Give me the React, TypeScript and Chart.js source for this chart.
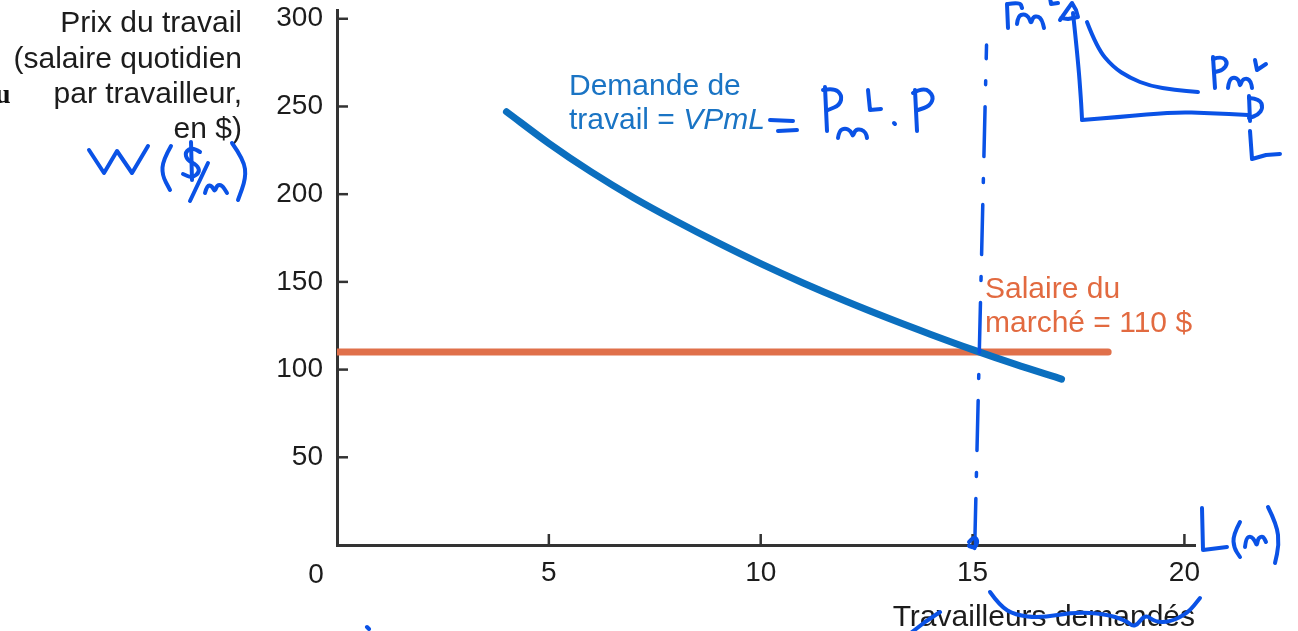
import React, { useEffect, useRef } from "react";
import { Chart, registerables } from "chart.js";

Chart.register(...registerables);

// ---- data ----
const demandWorkers = [4, 5, 6, 7, 8, 9, 10, 11, 12, 13, 14, 15, 16, 17.1];
const demandWage = [247, 229, 212.7, 198, 184.7, 172.2, 160.4, 149.4, 139.1, 129.4, 120.2, 111.4, 103.1, 94.6];
const marketWorkers = [0, 18.2];
const marketWage = [110, 110];
const handLineWorkers = [15.05, 15.33];
const handLineWage = [-2, 285];
const xTicks = [5, 10, 15, 20];
const yTicks = [50, 100, 150, 200, 250, 300];

const yTitleLines = ["Prix du travail", "(salaire quotidien", "par travailleur,", "en $)"];
const demandLabel = ["Demande de", "travail = ", "VPmL"];
const marketLabel = ["Salaire du", "marché = 110 $"];
const xTitle = "Travailleurs demandés";

// ---- styles ----
const FONT = '"Liberation Sans", Arial, Helvetica, sans-serif';
const TEXT = "#1c1c1c";
const BLUE = "#0b6fbf";
const ORANGE = "#e0704a";
const INK = "#0a52e6";

// hand-written ink strokes (decoration, canvas pixels) : [smooth, points]
type Stroke = [boolean, number[][]];
const inkStrokes: Stroke[] = [
  // W ($/M)
  [false, [[89, 150], [104, 173], [117, 151], [132, 173], [148, 146]]],
  [true, [[171, 146], [163, 160], [162, 175], [170, 190]]],
  [true, [[200, 152], [193, 147], [185, 152], [187, 160], [197, 165], [200, 172], [192, 178], [183, 174]]],
  [false, [[191, 142], [192, 180]]],
  [false, [[208, 163], [190, 201]]],
  [true, [[205, 193], [207, 185], [212, 186], [215, 192], [217, 185], [222, 185], [227, 193]]],
  [true, [[232, 143], [244, 160], [246, 178], [238, 200]]],
  // = Pm^L . P
  [false, [[770, 120], [793, 121]]],
  [false, [[778, 131], [797, 130]]],
  [false, [[825, 87], [827, 131]]],
  [true, [[823, 90], [834, 88], [842, 95], [840, 105], [828, 110]]],
  [true, [[838, 138], [839, 131], [845, 128], [851, 131], [853, 137], [855, 130], [861, 129], [866, 133], [867, 138]]],
  [false, [[868, 90], [870, 110], [881, 109]]],
  [false, [[894, 123], [895, 124]]],
  [false, [[915, 90], [917, 131]]],
  [true, [[913, 93], [924, 87], [934, 96], [930, 106], [918, 110]]],
  // inset sketch
  [false, [[1007, 4], [1008, 28]]],
  [true, [[1008, 4], [1020, 2], [1022, 8]]],
  [true, [[1017, 24], [1018, 16], [1024, 14], [1029, 17], [1031, 24], [1033, 17], [1038, 16], [1042, 20], [1044, 28]]],
  [false, [[1050, -2], [1051, 4], [1058, 3]]],
  [false, [[1060, 20], [1067, 10], [1072, 3], [1076, 10], [1078, 17], [1068, 19], [1061, 18]]],
  [true, [[1073, 13], [1078, 60], [1081, 100], [1082, 119]]],
  [true, [[1082, 120], [1120, 117], [1173, 112], [1210, 113], [1248, 115]]],
  [true, [[1087, 22], [1097, 48], [1113, 67], [1130, 78], [1150, 86], [1175, 90], [1198, 92]]],
  [false, [[1213, 57], [1215, 88]]],
  [true, [[1213, 59], [1222, 56], [1228, 63], [1223, 70], [1215, 72]]],
  [true, [[1228, 88], [1229, 80], [1234, 77], [1239, 80], [1240, 87], [1242, 80], [1247, 78], [1251, 82], [1252, 88]]],
  [false, [[1255, 60], [1257, 70], [1266, 64]]],
  [false, [[1249, 96], [1250, 121]]],
  [true, [[1249, 98], [1260, 99], [1263, 108], [1258, 115], [1249, 118]]],
  [false, [[1250, 131], [1252, 159], [1266, 155], [1280, 154]]],
  // L(M)
  [false, [[1202, 508], [1203, 550], [1227, 547]]],
  [true, [[1240, 522], [1233, 535], [1234, 548], [1240, 557]]],
  [true, [[1245, 547], [1246, 538], [1251, 536], [1255, 541], [1257, 546], [1258, 538], [1263, 536], [1266, 542]]],
  [true, [[1268, 507], [1277, 525], [1279, 545], [1275, 563]]],
  // scribble at 15
  [true, [[969, 542], [974, 536], [978, 541], [975, 548], [969, 546]]],
  // wavy line over axis title
  [true, [[990, 592], [1000, 606], [1015, 615], [1040, 618], [1075, 612], [1105, 614], [1125, 620], [1135, 628], [1145, 614], [1155, 622], [1170, 622], [1188, 613], [1200, 598]]],
  [false, [[912, 632], [925, 622], [940, 612]]],
  [false, [[367, 627], [369, 629]]],
];

function drawStroke(ctx: CanvasRenderingContext2D, smooth: boolean, pts: number[][]) {
  ctx.beginPath();
  ctx.moveTo(pts[0][0], pts[0][1]);
  if (!smooth || pts.length < 3) {
    for (let i = 1; i < pts.length; i++) ctx.lineTo(pts[i][0], pts[i][1]);
  } else {
    for (let i = 1; i < pts.length - 1; i++) {
      const mx = (pts[i][0] + pts[i + 1][0]) / 2;
      const my = (pts[i][1] + pts[i + 1][1]) / 2;
      ctx.quadraticCurveTo(pts[i][0], pts[i][1], mx, my);
    }
    const last = pts[pts.length - 1];
    ctx.lineTo(last[0], last[1]);
  }
  ctx.stroke();
}

const decorPlugin = {
  id: "decor",
  afterDraw(chart: any) {
    const ctx: CanvasRenderingContext2D = chart.ctx;
    const xs = chart.scales.x;
    const ys = chart.scales.y;
    const area = chart.chartArea;
    ctx.save();

    // inward tick marks
    ctx.strokeStyle = "#333333";
    ctx.lineWidth = 2.5;
    yTicks.forEach((v) => {
      const py = ys.getPixelForValue(v);
      ctx.beginPath();
      ctx.moveTo(area.left, py);
      ctx.lineTo(area.left + 11, py);
      ctx.stroke();
    });
    xTicks.forEach((v) => {
      const px = xs.getPixelForValue(v);
      ctx.beginPath();
      ctx.moveTo(px, area.bottom);
      ctx.lineTo(px, area.bottom - 11);
      ctx.stroke();
    });

    // origin label
    ctx.fillStyle = TEXT;
    ctx.font = `28px ${FONT}`;
    ctx.textAlign = "center";
    ctx.textBaseline = "alphabetic";
    ctx.fillText("0", area.left - 21, 583);

    // y title
    ctx.font = `30px ${FONT}`;
    ctx.textAlign = "right";
    const yBase = [32, 68, 103, 138];
    yTitleLines.forEach((t, i) => ctx.fillText(t, 242, yBase[i]));

    // x title
    ctx.fillText(xTitle, area.right, 626);

    // demand label
    ctx.textAlign = "left";
    ctx.fillStyle = "#1a74c4";
    ctx.fillText(demandLabel[0], 569, 95);
    ctx.fillText(demandLabel[1], 569, 129);
    const w = ctx.measureText(demandLabel[1]).width;
    ctx.font = `italic 30px ${FONT}`;
    ctx.fillText(demandLabel[2], 569 + w, 129);

    // market label
    ctx.font = `30px ${FONT}`;
    ctx.fillStyle = "#e26a40";
    ctx.fillText(marketLabel[0], 985, 298);
    ctx.fillText(marketLabel[1], 985, 332);

    // stray serif glyph at the left edge
    ctx.fillStyle = "#111111";
    ctx.font = `bold 28px "Liberation Serif", serif`;
    ctx.fillText("u", -5, 103);

    // ink
    ctx.strokeStyle = INK;
    ctx.lineWidth = 4;
    ctx.lineCap = "round";
    ctx.lineJoin = "round";
    inkStrokes.forEach(([s, p]) => drawStroke(ctx, s, p));

    ctx.restore();
  },
};

export default function App() {
  const ref = useRef<HTMLCanvasElement | null>(null);
  useEffect(() => {
    if (!ref.current) return;
    const chart = new Chart(ref.current, {
      type: "line",
      data: {
        datasets: [
          {
            label: "hand",
            data: handLineWorkers.map((x, i) => ({ x, y: handLineWage[i] })),
            borderColor: INK,
            borderWidth: 3.5,
            borderDash: [50, 22, 4, 22],
            borderCapStyle: "round",
            pointRadius: 0,
            order: 0,
            clip: false,
          },
          {
            label: "Demande de travail",
            data: demandWorkers.map((x, i) => ({ x, y: demandWage[i] })),
            borderColor: BLUE,
            borderWidth: 7,
            borderCapStyle: "round",
            cubicInterpolationMode: "monotone",
            pointRadius: 0,
            order: 1,
          },
          {
            label: "Salaire du marché",
            data: marketWorkers.map((x, i) => ({ x, y: marketWage[i] })),
            borderColor: ORANGE,
            borderWidth: 7,
            borderCapStyle: "round",
            pointRadius: 0,
            order: 2,
          },
        ],
      } as any,
      options: {
        animation: false,
        responsive: true,
        maintainAspectRatio: false,
        layout: { padding: { top: 10, right: 103, left: 0, bottom: 0 } },
        plugins: { legend: { display: false }, tooltip: { enabled: false } },
        events: [],
        scales: {
          x: {
            type: "linear",
            min: 0,
            max: 20.25,
            afterFit: (s: any) => {
              s.height = 86;
              s.paddingLeft = 0;
              s.paddingRight = 0;
            },
            border: { display: true, color: "#333333", width: 3 },
            grid: { display: false, drawTicks: false },
            ticks: {
              stepSize: 5,
              includeBounds: false,
              padding: 11,
              color: TEXT,
              font: { family: FONT, size: 28 },
              callback: (v: any) => (v === 0 ? "" : String(v)),
            },
          },
          y: {
            type: "linear",
            min: 0,
            max: 305,
            afterFit: (s: any) => {
              s.width = 337;
              s.paddingTop = 0;
              s.paddingBottom = 0;
            },
            border: { display: true, color: "#333333", width: 3 },
            grid: { display: false, drawTicks: false },
            ticks: {
              stepSize: 50,
              includeBounds: false,
              padding: 14,
              color: TEXT,
              font: { family: FONT, size: 28 },
              callback: (v: any) => (v === 0 ? "" : String(v)),
            },
          },
        },
      } as any,
      plugins: [decorPlugin],
    });
    return () => chart.destroy();
  }, []);
  return (
    <div style={{ position: "fixed", left: 0, top: 0, width: 1298, height: 631, background: "#fff" }}>
      <canvas ref={ref} />
    </div>
  );
}
